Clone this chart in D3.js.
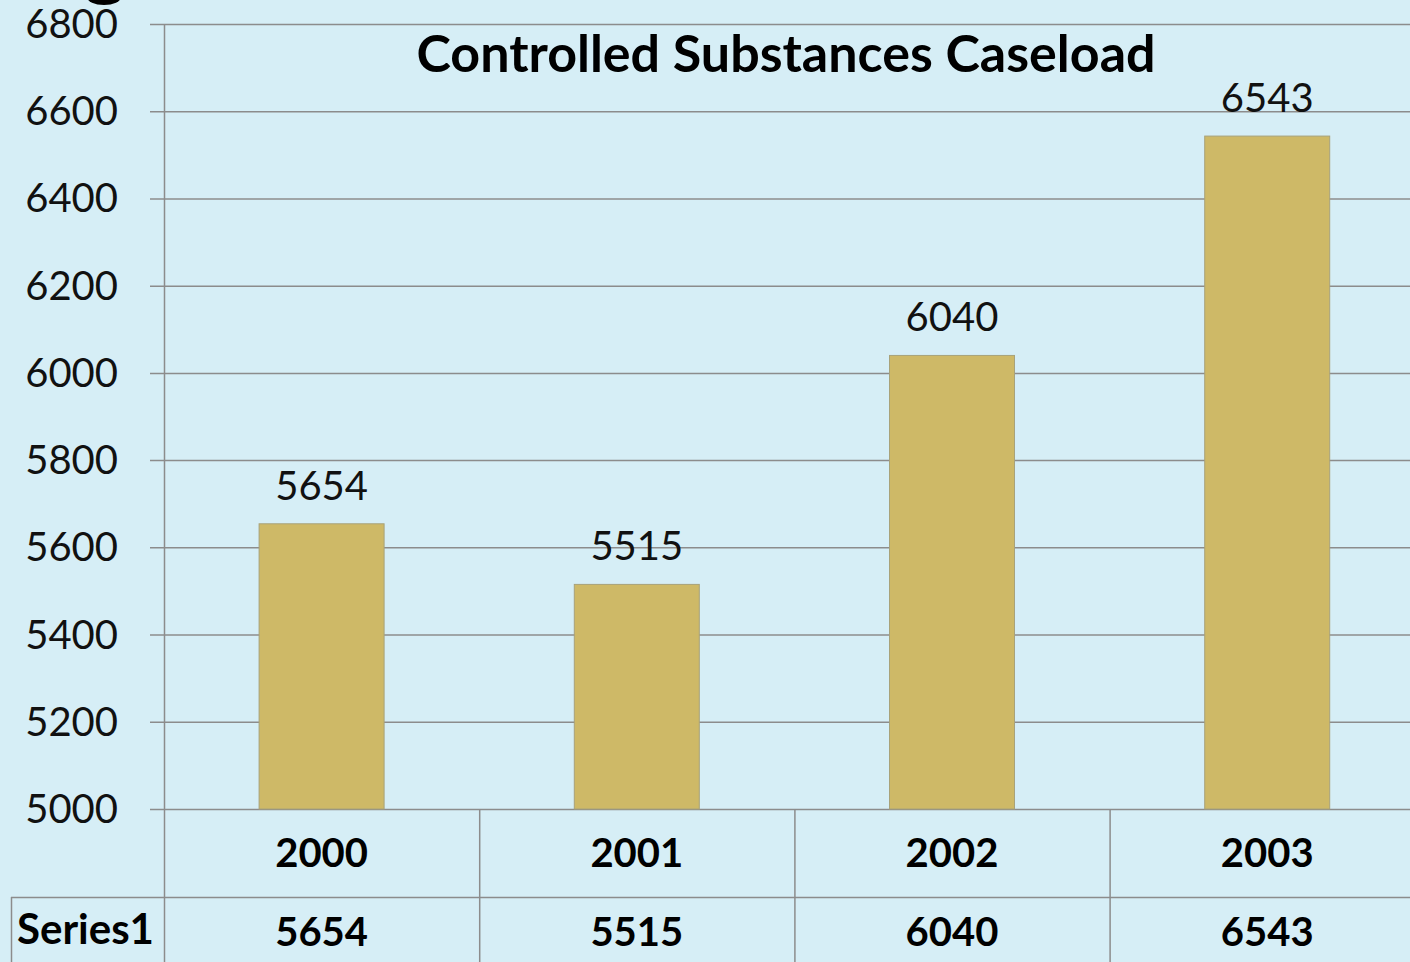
<!DOCTYPE html>
<html><head><meta charset="utf-8">
<script src="https://cdn.jsdelivr.net/npm/d3@7"></script>
<style>html,body{margin:0;padding:0;background:#D6EEF6;overflow:hidden}</style>
</head><body>
<svg id="c" width="1410" height="962"></svg>
<script>
const title = "Controlled Substances Caseload";
const categories = ["2000","2001","2002","2003"];
const values = [5654,5515,6040,6543];
const seriesName = "Series1";
const yTicks = [5000,5200,5400,5600,5800,6000,6200,6400,6600,6800];

(function(){
const svg = d3.select("#c");
const W = 1410, H = 962;
const pLeft = 164, pTop = 24, pBottom = 809;
const bandW = 315.2;
const font = "Lato, 'Open Sans', sans-serif";
const grid = "#8C8C8C";

svg.append("rect").attr("width",W).attr("height",H).attr("fill","#D6EEF6");

const x = d3.scaleBand().domain(categories).range([pLeft, pLeft + bandW*categories.length]).paddingInner(0).paddingOuter(0);
const y = d3.scaleLinear().domain([5000,6800]).range([pBottom, pTop]);

// gridlines
svg.append("g").selectAll("line").data(yTicks).join("line")
  .attr("x1", 150).attr("x2", W)
  .attr("y1", d=>y(d)+0.5).attr("y2", d=>y(d)+0.5)
  .attr("stroke", grid).attr("stroke-width", 1.5);

// y axis line
svg.append("line").attr("x1",pLeft+0.5).attr("x2",pLeft+0.5).attr("y1",pTop).attr("y2",pBottom)
  .attr("stroke",grid).attr("stroke-width",1.5);

// y labels
svg.append("g").selectAll("text").data(yTicks).join("text")
  .attr("x", 118).attr("y", d=>y(d)+14)
  .attr("text-anchor","end")
  .attr("font-family",font).attr("font-size",40).attr("fill","#111")
  .text(d=>d);

// bars
const barW = 125;
svg.append("g").selectAll("rect").data(values).join("rect")
  .attr("x",(d,i)=>x(categories[i]) + x.bandwidth()/2 - barW/2)
  .attr("y",d=>y(d))
  .attr("width",barW)
  .attr("height",d=>y(5000)-y(d))
  .attr("fill","#CEB967")
  .attr("stroke","#A8A27A").attr("stroke-width",1);

// value labels
svg.append("g").selectAll("text").data(values).join("text")
  .attr("x",(d,i)=>x(categories[i]) + x.bandwidth()/2)
  .attr("y",d=>y(d)-24)
  .attr("text-anchor","middle")
  .attr("font-family",font).attr("font-size",40).attr("fill","#111")
  .text(d=>d);

// title
svg.append("text").attr("x",786).attr("y",72).attr("text-anchor","middle")
  .attr("font-family",font).attr("font-weight","bold").attr("font-size",52).attr("fill","#000")
  .text(title);

// data table
const row1 = 897;
svg.append("line").attr("x1",11).attr("x2",W).attr("y1",row1+0.5).attr("y2",row1+0.5)
  .attr("stroke",grid).attr("stroke-width",1.5);
svg.append("line").attr("x1",11.5).attr("x2",11.5).attr("y1",row1).attr("y2",H)
  .attr("stroke",grid).attr("stroke-width",1.5);
const bounds = categories.map(c=>x(c));
svg.append("g").selectAll("line").data(bounds).join("line")
  .attr("x1",d=>d+0.5).attr("x2",d=>d+0.5).attr("y1",pBottom).attr("y2",H)
  .attr("stroke",grid).attr("stroke-width",1.5);

svg.append("g").selectAll("text").data(categories).join("text")
  .attr("x",d=>x(d)+x.bandwidth()/2).attr("y",867)
  .attr("text-anchor","middle")
  .attr("font-family",font).attr("font-weight","bold").attr("font-size",40).attr("fill","#000")
  .text(d=>d);
svg.append("g").selectAll("text").data(values).join("text")
  .attr("x",(d,i)=>x(categories[i])+x.bandwidth()/2).attr("y",946)
  .attr("text-anchor","middle")
  .attr("font-family",font).attr("font-weight","bold").attr("font-size",40).attr("fill","#000")
  .text(d=>d);
svg.append("text").attr("x",17).attr("y",944)
  .attr("font-family",font).attr("font-weight","bold").attr("font-size",42).attr("fill","#000")
  .text(seriesName);

// cropped glyph fragment at the very top
svg.append("ellipse").attr("cx",104).attr("cy",-3).attr("rx",17).attr("ry",8).attr("fill","#000");
})();
</script>
</body></html>
